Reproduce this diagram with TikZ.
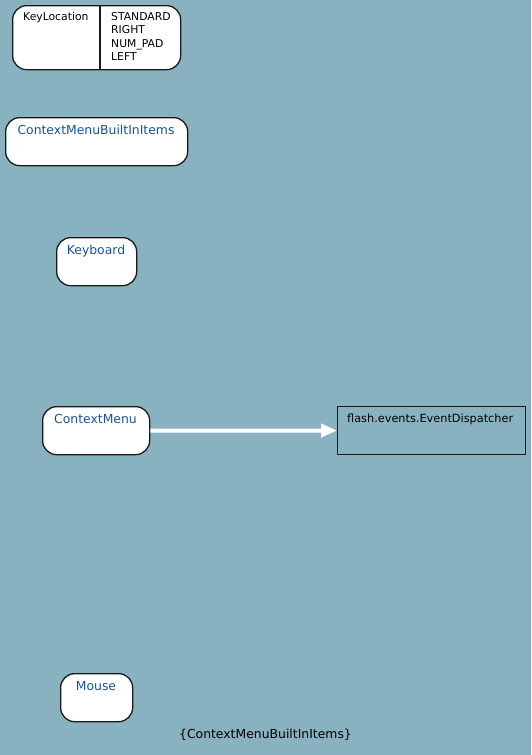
\documentclass[tikz,border=0pt]{standalone}
\usepackage{fontspec}
\setmainfont{DejaVu Sans}
\usetikzlibrary{arrows.meta}
\definecolor{bg}{RGB}{137,178,193}
\definecolor{lbl}{RGB}{28,84,150}
\begin{document}
\begin{tikzpicture}[x=1pt,y=-1pt,
  cls/.style={draw=black!90, line width=1.3pt, fill=white, rounded corners=14pt,
    anchor=north west, inner sep=0pt, minimum height=48pt},
  ext/.style={draw=black!90, line width=1.1pt, anchor=north west, inner sep=0pt},
  bluetxt/.style={text=lbl, inner sep=0pt, anchor=base, font=\fontsize{12.4}{14}\selectfont},
  blacktxt/.style={text=black, inner sep=0pt, anchor=base west, font=\fontsize{10.8}{13}\selectfont},
  inherit/.style={white, line width=4pt, -{Triangle[length=16pt,width=13pt]}}]
\fill[bg] (0,0) rectangle (531,755);
\useasboundingbox (0,0) rectangle (531,755);

% enumeration KeyLocation
\node[cls, minimum width=168pt, minimum height=64pt] (kl) at (12,5) {};
\coordinate (dv) at (100,0);
\draw[line width=1.3pt, black!90] (kl.north -| dv) -- (kl.south -| dv);
\node[blacktxt] (klname) at (23,20) {KeyLocation};
\node[blacktxt] (kv1) at (111,20) {STANDARD};
\node[blacktxt] (kv2) at (111,33.5) {RIGHT};
\node[blacktxt] (kv3) at (111,47) {NUM\_PAD};
\node[blacktxt] (kv4) at (111,60.5) {LEFT};

% classes
\node[cls, minimum width=182pt] (cmbi) at (5,117) {};
\node[bluetxt] (cmbit) at (96,134) {ContextMenuBuiltInItems};

\node[cls, minimum width=80pt] (kb) at (56,237) {};
\node[bluetxt] (kbt) at (96,254) {Keyboard};

\node[cls, minimum width=107pt] (cm) at (42,406) {};
\node[bluetxt] (cmt) at (95.5,423.5) {ContextMenu};

\node[cls, minimum width=72pt] (ms) at (60,673) {};
\node[bluetxt] (mst) at (96,690.5) {Mouse};

% external superclass
\node[ext, minimum width=188pt, minimum height=48pt] (ed) at (337,406) {};
\node[blacktxt, font=\fontsize{11.3}{13}\selectfont] (edt) at (347,422) {flash.events.EventDispatcher};

% inheritance
\draw[inherit] (cm.east) -- (ed.west);

% package caption
\node[bluetxt, text=black] (cap) at (265.5,738.5) {\{ContextMenuBuiltInItems\}};
\end{tikzpicture}
\end{document}
